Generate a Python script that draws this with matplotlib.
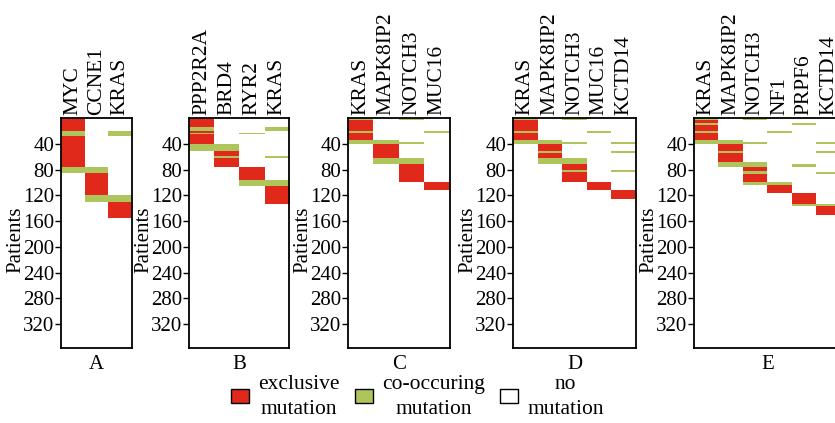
import numpy as np
import matplotlib
matplotlib.use('Agg')
from matplotlib import pyplot as plt
from matplotlib.colors import ListedColormap
from matplotlib.patches import Patch

plt.rcParams['font.family'] = ['Liberation Serif', 'DejaVu Serif']
plt.rcParams['font.size'] = 15

n_patients = 357
yticks = [40, 80, 120, 160, 200, 240, 280, 320]

# (start, end) patient ranges per gene
genes_a = ['MYC', 'CCNE1', 'KRAS']
exclusive_a = [[(0, 21), (30, 78)], [(87, 120)], [(132, 156)]]
cooccur_a = [[(21, 30), (78, 87)], [(78, 87), (120, 132)], [(21, 30), (120, 132)]]

genes_b = ['PPP2R2A', 'BRD4', 'RYR2', 'KRAS']
exclusive_b = [[(0, 15), (21, 24), (27, 41)], [(53, 61), (64, 78)], [(78, 97)], [(106, 134)]]
cooccur_b = [[(15, 21), (24, 27), (41, 53)], [(41, 53), (61, 64)], [(24, 27), (97, 106)],
             [(15, 21), (61, 64), (97, 106)]]

genes_c = ['KRAS', 'MAPK8IP2', 'NOTCH3', 'MUC16']
exclusive_c = [[(5, 22), (25, 35)], [(41, 64)], [(73, 101)], [(101, 113)]]
cooccur_c = [[(0, 5), (22, 25), (35, 41)], [(35, 41), (64, 73)], [(0, 5), (39, 42), (64, 73)], [(21, 24)]]

genes_d = ['KRAS', 'MAPK8IP2', 'NOTCH3', 'MUC16', 'KCTD14']
exclusive_d = [[(5, 22), (25, 35)], [(41, 52), (55, 64)], [(73, 82), (85, 101)], [(101, 113)], [(113, 126)]]
cooccur_d = [[(0, 5), (22, 25), (35, 41)], [(35, 41), (52, 55), (64, 73)],
             [(0, 5), (39, 42), (64, 73), (82, 85)], [(21, 24)], [(38, 42), (52, 55), (82, 85)]]

genes_e = ['KRAS', 'MAPK8IP2', 'NOTCH3', 'NF1', 'PRPF6', 'KCTD14']
exclusive_e = [[(5, 10), (13, 22), (25, 35)], [(41, 52), (55, 69)], [(78, 84), (88, 101)],
               [(105, 118)], [(118, 134)], [(137, 151)]]
cooccur_e = [[(0, 5), (10, 13), (22, 25), (35, 41)], [(35, 41), (52, 55), (69, 78)],
             [(0, 5), (39, 42), (69, 78), (84, 88), (101, 105)], [(21, 24), (101, 105)],
             [(10, 13), (73, 78), (134, 137)], [(38, 42), (52, 55), (85, 88), (134, 137)]]

panels = [
    ('A', genes_a, exclusive_a, cooccur_a),
    ('B', genes_b, exclusive_b, cooccur_b),
    ('C', genes_c, exclusive_c, cooccur_c),
    ('D', genes_d, exclusive_d, cooccur_d),
    ('E', genes_e, exclusive_e, cooccur_e),
]

red = '#E0291B'
green = '#AEC55B'
cmap = ListedColormap(['white', red, green])

W, H = 835, 423
fig = plt.figure(figsize=(W / 100, H / 100), dpi=100)

# axes left/right edges in pixels
edges = [(61, 131.5), (189, 289), (348, 450), (513, 636), (694, 841)]
top_px, bot_px = 118, 348

for (letter, genes, excl, cooc), (x0, x1) in zip(panels, edges):
    ax = fig.add_axes([x0 / W, 1 - bot_px / H, (x1 - x0) / W, (bot_px - top_px) / H])
    mat = np.zeros((n_patients, len(genes)))
    for j in range(len(genes)):
        for s, e in excl[j]:
            mat[s:e, j] = 1
        for s, e in cooc[j]:
            mat[s:e, j] = 2
    ax.imshow(mat, cmap=cmap, vmin=0, vmax=2, aspect='auto', interpolation='nearest',
              extent=(0, len(genes), n_patients, 0))
    ax.set_xlim(0, len(genes))
    ax.set_ylim(n_patients, 0)
    ax.xaxis.tick_top()
    ax.set_xticks(np.arange(len(genes)) + 0.5)
    ax.set_xticklabels(genes, rotation=90, fontsize=15.5)
    ax.tick_params(axis='x', length=0, pad=2)
    ax.set_yticks(yticks)
    ax.tick_params(axis='y', direction='out', length=4, width=1, pad=1)
    ax.set_xlabel(letter, labelpad=5)
    ax.set_ylabel('Patients', labelpad=0)
    ax.yaxis.set_label_coords(-36 / (x1 - x0), 0.47)
    for sp in ax.spines.values():
        sp.set_linewidth(1.3)

handles = [Patch(facecolor=red, edgecolor='black', linewidth=1),
           Patch(facecolor=green, edgecolor='black', linewidth=1),
           Patch(facecolor='white', edgecolor='black', linewidth=1)]
labels = ['exclusive\nmutation', 'co-occuring\nmutation', 'no\nmutation']
leg = fig.legend(handles, labels, ncol=3, loc='center', bbox_to_anchor=(0.5, 0.062),
                 frameon=False, handlelength=0.82, handleheight=0.6, handletextpad=0.45,
                 columnspacing=0.7, fontsize=15.5)
for t in leg.get_texts():
    t.set_multialignment('center')
    t.set_linespacing(1.45)

fig.savefig('out.png', dpi=100)
